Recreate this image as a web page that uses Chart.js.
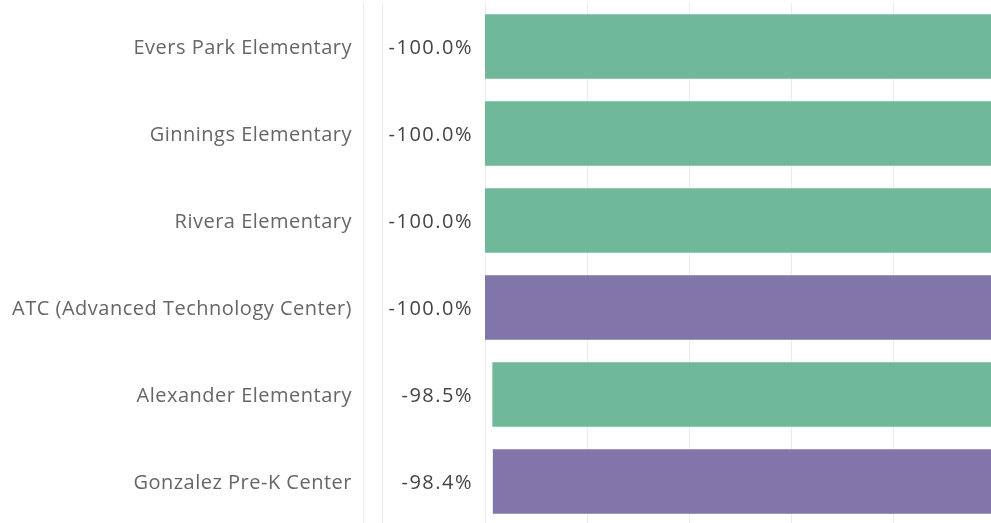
<!DOCTYPE html>
<html>
<head>
<meta charset="utf-8">
<script src="https://cdn.jsdelivr.net/npm/chart.js@4"></script>
<style>
  html, body { margin: 0; padding: 0; background: #fff; overflow: hidden; }
  #wrap { width: 995px; height: 525px; }
</style>
</head>
<body>
<div id="wrap"><canvas id="chart" width="995" height="525"></canvas></div>
<script>
const schools = [
  'Evers Park Elementary',
  'Ginnings Elementary',
  'Rivera Elementary',
  'ATC (Advanced Technology Center)',
  'Alexander Elementary',
  'Gonzalez Pre-K Center',
];
const changePct = [-100.0, -100.0, -100.0, -100.0, -98.5, -98.4];
const schoolGroup = ['a', 'a', 'a', 'b', 'a', 'b'];
const xTicks = [-100, -80, -60, -40, -20, 0];

const groupColors = {a: '#6fb899', b: '#8275a9'};
const FONT = 'Open Sans';
const SPACING = '0.5px';

// value labels and the two thin column rules left of the bars
const sideColumn = {
  id: 'sideColumn',
  beforeDraw(chart) {
    chart.ctx.letterSpacing = SPACING;
  },
  afterDraw(chart) {
    const {ctx, chartArea} = chart;
    const yScale = chart.scales.y;
    ctx.save();
    ctx.strokeStyle = '#ebebeb';
    ctx.lineWidth = 1;
    [363.5, 382.5].forEach((x) => {
      ctx.beginPath();
      ctx.moveTo(x, chartArea.top);
      ctx.lineTo(x, chartArea.bottom);
      ctx.stroke();
    });
    ctx.letterSpacing = '1.5px';
    ctx.font = '20px "' + FONT + '"';
    ctx.fillStyle = '#444';
    ctx.textAlign = 'right';
    ctx.textBaseline = 'middle';
    changePct.forEach((v, i) => {
      ctx.fillText(v.toFixed(1) + '%', chartArea.left - 12, yScale.getPixelForValue(i) + 2);
    });
    ctx.restore();
  },
};

new Chart(document.getElementById('chart'), {
  type: 'bar',
  data: {
    labels: schools,
    datasets: [
      {
        data: changePct,
        backgroundColor: schoolGroup.map((g) => groupColors[g]),
        borderWidth: 0,
        barThickness: 64,
      },
    ],
  },
  options: {
    indexAxis: 'y',
    responsive: false,
    animation: false,
    layout: {padding: {top: 3, left: 0, right: 0, bottom: 0}},
    plugins: {
      legend: {display: false},
      tooltip: {enabled: false},
    },
    scales: {
      x: {
        min: -100,
        max: 0,
        afterBuildTicks: (scale) => {
          scale.ticks = xTicks.map((v) => ({value: v}));
        },
        afterFit: (scale) => {
          scale.height = 0;
          scale.paddingLeft = 0;
          scale.paddingRight = 0;
        },
        ticks: {display: false},
        border: {display: false},
        grid: {color: '#ececec', lineWidth: 1, drawTicks: false},
      },
      y: {
        afterFit: (scale) => {
          scale.width = 485;
          scale.paddingTop = 0;
          scale.paddingBottom = 0;
        },
        border: {display: false},
        grid: {display: false, drawTicks: false},
        ticks: {
          padding: 133,
          labelOffset: 2,
          color: '#666',
          font: {family: FONT, size: 20},
        },
      },
    },
  },
  plugins: [sideColumn],
});
</script>
</body>
</html>
